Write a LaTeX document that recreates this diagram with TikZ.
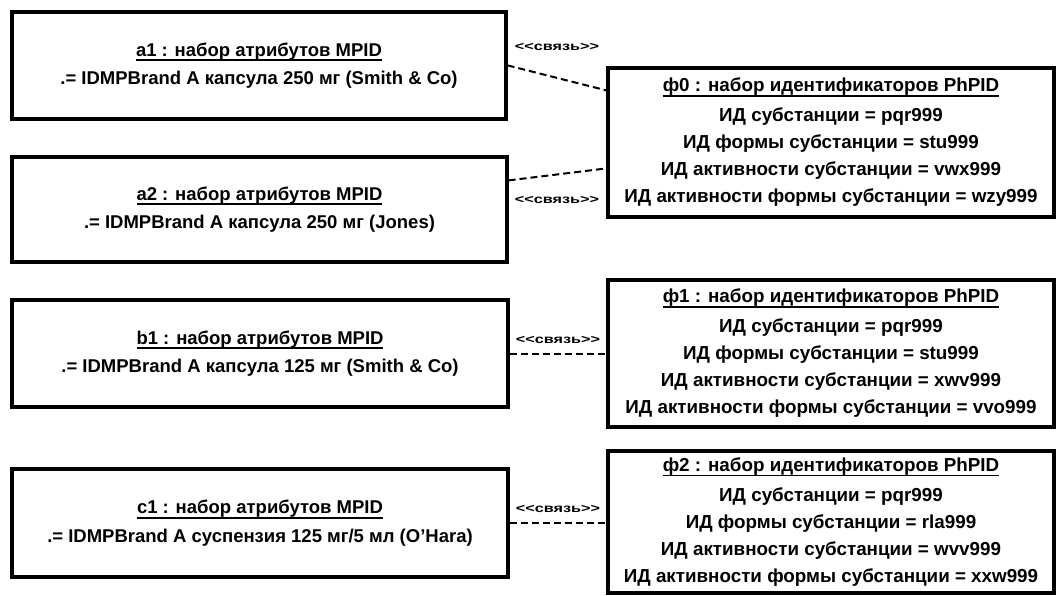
\documentclass[tikz,border=0pt]{standalone}
\usepackage{fontspec}
\usepackage{graphicx}
\setmainfont{Liberation Sans}
\newcommand\myul[1]{\setbox0\hbox{#1}\rlap{\rule[-5pt]{\wd0}{1.8pt}}\box0}
\newcommand\svz{\scalebox{1.35}[1]{{<}{<}связь{>}{>}}}
\begin{document}
\begin{tikzpicture}[x=1pt,y=-1pt,
  objbox/.style={draw, line width=3.2pt, inner sep=0pt, align=center,
    font=\fontsize{18.5}{28.5}\selectfont\bfseries},
  phbox/.style={draw, line width=3.2pt, inner sep=0pt, align=center,
    font=\fontsize{18.8}{27}\selectfont\bfseries},
  conn/.style={line width=2pt, dash pattern=on 7pt off 4pt},
  lbl/.style={inner sep=0pt, font=\fontsize{12}{14}\selectfont\bfseries}]
\useasboundingbox (0,0) rectangle (1056,595);

\node[objbox, minimum width=494pt, minimum height=107pt] (a1) at (259,65.5)
  {\myul{a1 : набор атрибутов MPID}\\.= IDMPBrand A капсула 250 мг (Smith \& Co)};
\node[objbox, minimum width=495pt, minimum height=105pt] (a2) at (259.5,209.5)
  {\myul{a2 : набор атрибутов MPID}\\.= IDMPBrand A капсула 250 мг (Jones)};
\node[objbox, minimum width=496pt, minimum height=107pt] (b1) at (260,353.5)
  {\myul{b1 : набор атрибутов MPID}\\.= IDMPBrand A капсула 125 мг (Smith \& Co)};
\node[objbox, minimum width=496pt, minimum height=108pt] (c1) at (260,523)
  {\myul{c1 : набор атрибутов MPID}\\.= IDMPBrand A суспензия 125 мг/5 мл (O'Hara)};

\node[phbox, minimum width=446pt, minimum height=149pt] (f0) at (831,142.5)
  {\myul{ф0 : набор идентификаторов PhPID}\\[3pt]ИД субстанции = pqr999\\ИД формы субстанции = stu999\\ИД активности субстанции = vwx999\\ИД активности формы субстанции = wzy999};
\node[phbox, minimum width=446pt, minimum height=147pt] (f1) at (831,353.5)
  {\myul{ф1 : набор идентификаторов PhPID}\\[3pt]ИД субстанции = pqr999\\ИД формы субстанции = stu999\\ИД активности субстанции = xwv999\\ИД активности формы субстанции = vvo999};
\node[phbox, minimum width=446pt, minimum height=142pt] (f2) at (831,522)
  {\myul{ф2 : набор идентификаторов PhPID}\\[3pt]ИД субстанции = pqr999\\ИД формы субстанции = rla999\\ИД активности субстанции = wvv999\\ИД активности формы субстанции = xxw999};

\draw[conn] ([yshift=-55pt]a1.north east) -- ([yshift=-24pt]f0.north west);
\draw[conn] ([yshift=-25pt]a2.north east) -- ([yshift=-102pt]f0.north west);
\draw[conn] (b1.east) -- (b1.east -| f1.west);
\draw[conn] (c1.east) -- (c1.east -| f2.west);

\node[lbl] (l1) at (557,47) {\svz};
\node[lbl] (l2) at (557,200) {\svz};
\node[lbl] (l3) at (558,340) {\svz};
\node[lbl] (l4) at (558,509) {\svz};
\end{tikzpicture}
\end{document}
